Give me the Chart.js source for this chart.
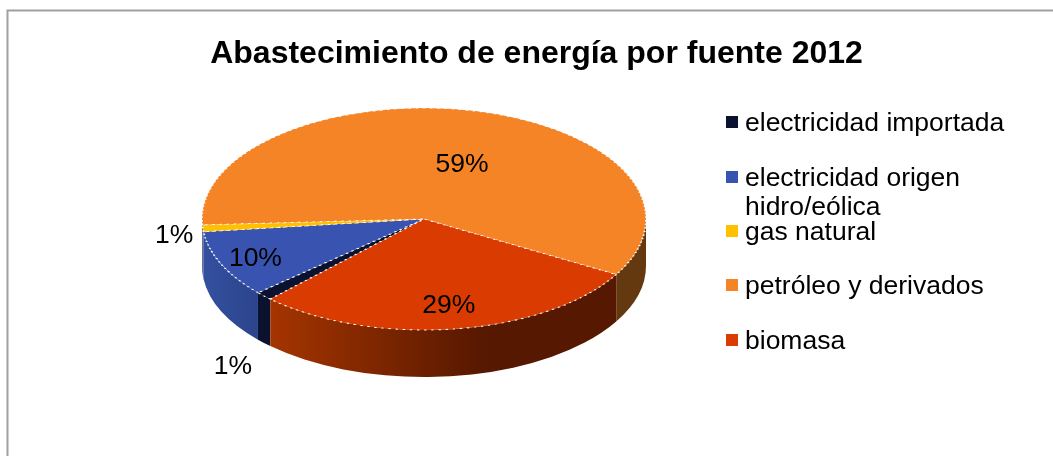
<!DOCTYPE html>
<html><head><meta charset="utf-8">
<style>html,body{margin:0;padding:0;background:#fff;overflow:hidden}canvas{display:block}</style>
<script src="https://cdn.jsdelivr.net/npm/chart.js@4/dist/chart.umd.js"></script>
</head><body><canvas id="c" width="1053" height="456"></canvas>
<script>
const titleText = 'Abastecimiento de energía por fuente 2012';
const categories = ['electricidad importada', ['electricidad origen','hidro/eólica'], 'gas natural', 'petróleo y derivados', 'biomasa'];
const shares = [1.28, 9.72, 1.0, 59.17, 28.83];
const topColors = ['#0A1230', '#3853B0', '#FFC000', '#F58426', '#DA3B00'];
const wallLeft = ['#0A1230', '#34509F', '#34509F', '#64390F', '#A53400'];
const wallRight = ['#0A1230', '#2B448C', '#34509F', '#64390F', '#561800'];

const FONT = '"Liberation Sans", Arial, sans-serif';
const PIE = {cx: 424, cy: 219, rx: 222, ry: 111, depth: 47};
const labelOffsets = [[-95,102],[-47,12],[-117,11],[7,10],[6,21]];

function arcX(a) { return PIE.cx + PIE.rx * Math.cos(a); }

const pie3d = {
  id: 'pie3d',
  beforeDraw(chart) {
    const c = chart.ctx;
    c.save();
    c.fillStyle = '#fff';
    c.fillRect(0, 0, chart.width, chart.height);
    c.strokeStyle = '#A0A0A0';
    c.lineWidth = 2;
    c.beginPath();
    c.moveTo(7.5, chart.height);
    c.lineTo(7.5, 10.5);
    c.lineTo(chart.width, 10.5);
    c.stroke();
    c.restore();
  },
  beforeDatasetsDraw(chart) {
    const c = chart.ctx, arcs = chart.getDatasetMeta(0).data;
    const TAU = Math.PI * 2;
    // side walls: the front half of each slice, extruded downward
    arcs.forEach((arc, i) => {
      for (let k = -1; k <= 1; k++) {
        const s = Math.max(arc.startAngle, k * TAU);
        const e = Math.min(arc.endAngle, k * TAU + Math.PI);
        if (e <= s) continue;
        const x0 = Math.min(arcX(s), arcX(e)), x1 = Math.max(arcX(s), arcX(e));
        const grad = c.createLinearGradient(x0, 0, x1, 0);
        grad.addColorStop(0, wallLeft[i]);
        grad.addColorStop(i === 4 ? 0.62 : 1, wallRight[i]);
        grad.addColorStop(1, wallRight[i]);
        c.beginPath();
        c.ellipse(PIE.cx, PIE.cy, PIE.rx, PIE.ry, 0, s, e);
        c.ellipse(PIE.cx, PIE.cy + PIE.depth, PIE.rx, PIE.ry, 0, e, s, true);
        c.closePath();
        c.fillStyle = grad;
        c.fill();
      }
    });
    // flatten the top face
    const a = arcs[0], r = a.outerRadius;
    c.save();
    c.translate(PIE.cx, PIE.cy);
    c.scale(PIE.rx / r, PIE.ry / r);
    c.translate(-a.x, -a.y);
  },
  afterDatasetsDraw(chart) {
    const c = chart.ctx, arcs = chart.getDatasetMeta(0).data;
    c.restore();
    c.save();
    c.fillStyle = '#000';
    c.font = '26.5px ' + FONT;
    c.textAlign = 'center';
    c.textBaseline = 'middle';
    arcs.forEach((arc, i) => {
      const mid = (arc.startAngle + arc.endAngle) / 2;
      const x = PIE.cx + 0.6 * PIE.rx * Math.cos(mid) + labelOffsets[i][0];
      const y = PIE.cy + 0.6 * PIE.ry * Math.sin(mid) + labelOffsets[i][1];
      c.fillText(Math.round(shares[i]) + '%', x, y);
    });
    // legend
    const swatchCentres = [122, 177, 231, 285, 340];
    c.textAlign = 'left';
    c.textBaseline = 'alphabetic';
    categories.forEach((cat, i) => {
      const y = swatchCentres[i];
      c.fillStyle = topColors[i];
      c.fillRect(726, y - 6, 12, 12);
      c.fillStyle = '#000';
      [].concat(cat).forEach((line, j) => c.fillText(line, 745, y + 9 + j * 29));
    });
    c.restore();
  }
};

new Chart(document.getElementById('c'), {
  type: 'pie',
  data: {
    labels: categories,
    datasets: [{
      data: shares,
      backgroundColor: topColors,
      borderColor: '#FFFFFF',
      borderWidth: 1.6,
      borderDash: [2, 4],
      hoverOffset: 0
    }]
  },
  options: {
    responsive: false,
    animation: false,
    rotation: 223.8,
    layout: {padding: {left: 20}},
    plugins: {
      legend: {display: false},
      tooltip: {enabled: false},
      title: {
        display: true,
        text: titleText,
        color: '#000',
        font: {family: FONT, size: 32, weight: 'bold', lineHeight: 1.2},
        padding: {top: 35, bottom: 10}
      }
    }
  },
  plugins: [pie3d]
});
</script></body></html>
